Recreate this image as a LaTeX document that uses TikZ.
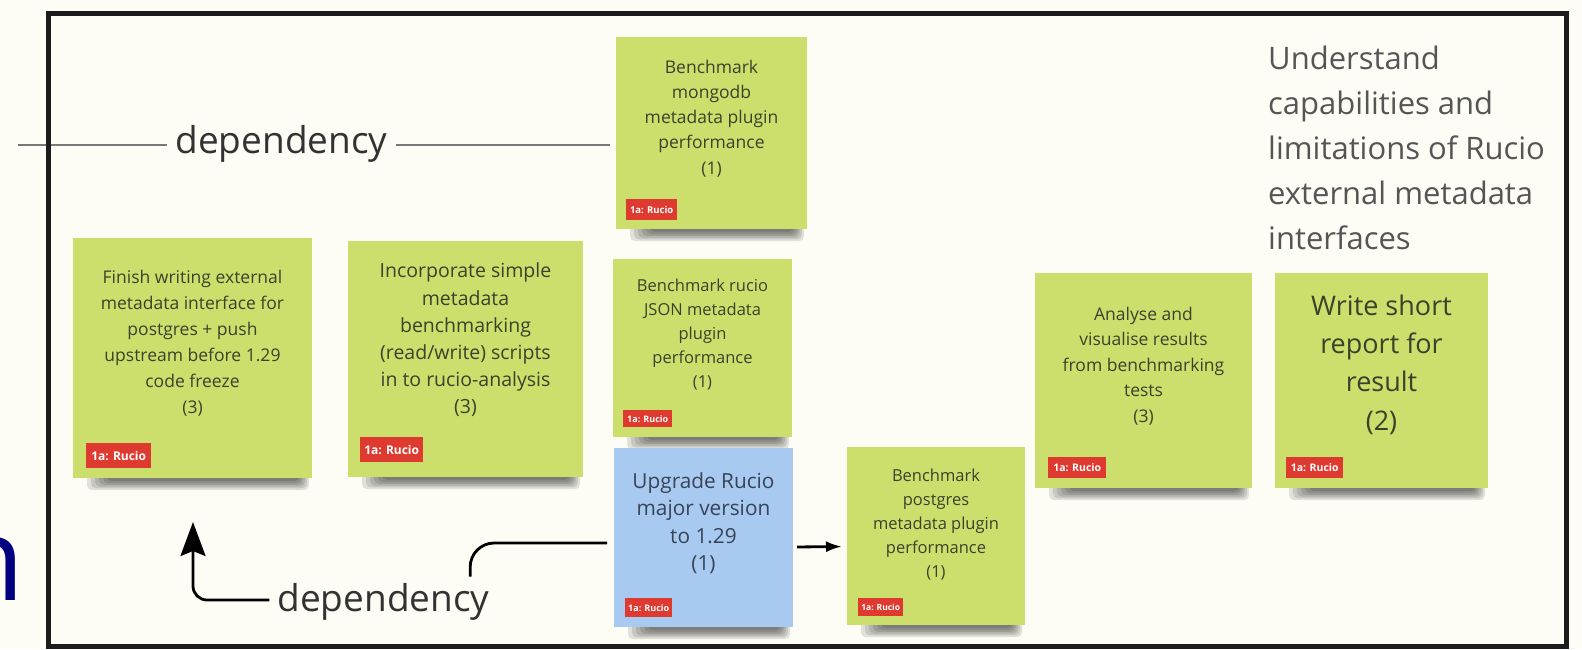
\documentclass[tikz,border=0pt]{standalone}
\usepackage{fontspec}
\setmainfont{Open Sans}
\usetikzlibrary{arrows.meta,calc}
\definecolor{bg}{RGB}{253,253,246}
\definecolor{notegreen}{RGB}{204,223,108}
\definecolor{noteblue}{RGB}{168,202,240}
\definecolor{notetext}{RGB}{58,66,44}
\definecolor{bluetext}{RGB}{55,68,88}
\definecolor{tagred}{RGB}{222,58,48}
\definecolor{navy}{RGB}{0,0,128}
\definecolor{framecol}{RGB}{28,28,28}
\definecolor{deptext}{RGB}{50,50,50}
\definecolor{goaltext}{RGB}{85,85,85}
\definecolor{depgray}{RGB}{120,120,120}
\pgfdeclarelayer{back}
\pgfdeclarelayer{shadowlayer}
\pgfsetlayers{back,shadowlayer,main}
\newcommand\noteshadow[1]{%
  \foreach \k in {1,...,6}{%
    \fill[black, opacity=0.11, rounded corners=5pt]
      ($(#1.south west)+(10+4*\k,-6)$) rectangle ($(#1.south east)+(-1-2*\k,14-1.8*\k)$);}}
\begin{document}
\begin{tikzpicture}[x=1pt,y=-1pt,
  sticky/.style={inner sep=0pt, outer sep=0pt, draw=none},
  notetxt/.style={align=center, inner sep=0pt, text=notetext},
  tagbox/.style={fill=tagred, text=white, inner sep=0pt, anchor=north west},
  depline/.style={draw=depgray, line width=1.8pt},
  conn/.style={draw=black, line width=2.8pt},
  deplabel/.style={text=deptext, font=\fontsize{37}{44}\selectfont, inner xsep=8pt, inner ysep=0pt, anchor=base}]
\useasboundingbox (0,0) rectangle (1582,649);
\begin{pgfonlayer}{back}
  \fill[bg] (0,0) rectangle (1582,649);
\end{pgfonlayer}

% partial slide title glyph
\node[anchor=base east, inner sep=0pt, text=navy, font=\fontsize{116}{120}\selectfont] (titleN) at (25,600) {n};

% sticky notes
\node[sticky, fill=notegreen, minimum width=191pt, minimum height=192pt] (mongo) at (711.5,133) {};
\node[sticky, fill=notegreen, minimum width=179pt, minimum height=178pt] (json) at (702.5,348) {};
\node[sticky, fill=noteblue, minimum width=179pt, minimum height=179pt] (blue) at (703.5,537.5) {};
\node[sticky, fill=notegreen, minimum width=178pt, minimum height=178pt] (pg) at (936,536) {};
\node[sticky, fill=notegreen, minimum width=239pt, minimum height=240pt] (finish) at (192.5,358) {};
\node[sticky, fill=notegreen, minimum width=235pt, minimum height=236pt] (incorp) at (465.5,359) {};
\node[sticky, fill=notegreen, minimum width=217pt, minimum height=215pt] (analyse) at (1143.5,380.5) {};
\node[sticky, fill=notegreen, minimum width=213pt, minimum height=215pt] (write) at (1381.5,380.5) {};

\begin{pgfonlayer}{shadowlayer}
  \noteshadow{mongo}\noteshadow{json}\noteshadow{blue}\noteshadow{pg}
  \noteshadow{finish}\noteshadow{incorp}\noteshadow{analyse}\noteshadow{write}
\end{pgfonlayer}

% note texts
\node[notetxt, font=\fontsize{17.5}{25.2}\selectfont] (mongo-text) at (711.5,118.5) {Benchmark\\mongodb\\metadata plugin\\performance\\(1)};
\node[notetxt, font=\fontsize{16.5}{23.8}\selectfont] (json-text) at (702.5,334.5) {Benchmark rucio\\JSON metadata\\plugin\\performance\\(1)};
\node[notetxt, text=bluetext, font=\fontsize{20.8}{27.5}\selectfont] (blue-text) at (703.5,523) {Upgrade Rucio\\major version\\to 1.29\\(1)};
\node[notetxt, font=\fontsize{16.5}{23.8}\selectfont] (pg-text) at (936,524.5) {Benchmark\\postgres\\metadata plugin\\performance\\(1)};
\node[notetxt, font=\fontsize{17.5}{26}\selectfont] (finish-text) at (192.5,343) {Finish writing external\\metadata interface for\\postgres + push\\upstream before 1.29\\code freeze\\(3)};
\node[notetxt, font=\fontsize{19.5}{27.2}\selectfont] (incorp-text) at (465.5,340) {Incorporate simple\\metadata\\benchmarking\\(read/write) scripts\\in to rucio-analysis\\(3)};
\node[notetxt, font=\fontsize{17.5}{25.5}\selectfont] (analyse-text) at (1143.5,366) {Analyse and\\visualise results\\from benchmarking\\tests\\(3)};
\node[notetxt, font=\fontsize{27}{38.3}\selectfont] (write-text) at (1381.5,364.5) {Write short\\report for\\result\\(2)};

% tags
\node[tagbox, minimum width=51pt, minimum height=21pt, font=\bfseries\fontsize{9.5}{10}\selectfont] (mongo-tag) at (626,199) {1a: Rucio};
\node[tagbox, minimum width=49pt, minimum height=17pt, font=\bfseries\fontsize{9}{10}\selectfont] (json-tag) at (623,410) {1a: Rucio};
\node[tagbox, minimum width=47pt, minimum height=19pt, font=\bfseries\fontsize{9}{10}\selectfont] (blue-tag) at (625,598) {1a: Rucio};
\node[tagbox, minimum width=45pt, minimum height=18pt, font=\bfseries\fontsize{8.5}{10}\selectfont] (pg-tag) at (858,598) {1a: Rucio};
\node[tagbox, minimum width=65pt, minimum height=25pt, font=\bfseries\fontsize{12}{13}\selectfont] (finish-tag) at (86,443) {1a: Rucio};
\node[tagbox, minimum width=63pt, minimum height=25pt, font=\bfseries\fontsize{12}{13}\selectfont] (incorp-tag) at (360,437) {1a: Rucio};
\node[tagbox, minimum width=58pt, minimum height=21pt, font=\bfseries\fontsize{10.5}{11}\selectfont] (analyse-tag) at (1048,457) {1a: Rucio};
\node[tagbox, minimum width=57pt, minimum height=21pt, font=\bfseries\fontsize{10.5}{11}\selectfont] (write-tag) at (1286,457) {1a: Rucio};

% goal text
\node[anchor=north west, align=left, inner sep=0pt, text=goaltext, font=\fontsize{31}{45}\selectfont] (goal) at (1268,45.5) {Understand\\capabilities and\\limitations of Rucio\\external metadata\\interfaces};

% top dependency
\coordinate (depL) at (18,145);
\node[deplabel] (dep1) at (281.5,153) {dependency};
\draw[depline] (depL) -- ([yshift=8pt]dep1.base west);
\draw[depline, shorten >=6pt] ([yshift=8pt]dep1.base east) -- (mongo.west |- depL);

% bottom dependency
\node[deplabel] (dep2) at (383.5,611) {dependency};
\coordinate (finTip) at (193,522);
\draw[conn, rounded corners=14pt, -{Stealth[length=34pt,width=25pt,inset=5pt]}] ([yshift=11pt]dep2.base west) -| (finTip);
\draw[conn, rounded corners=24pt] ([xshift=-27.5pt,yshift=6pt]dep2.north east) |- ([xshift=-7pt,yshift=-5.5pt]blue.west);
\draw[conn, -{Latex[length=16pt,width=11pt]}, shorten <=4pt, shorten >=5pt] ([yshift=-9.5pt]blue.east) -- ([yshift=-10.5pt]pg.west);

% frame
\draw[line width=5pt, framecol] (48,13) rectangle (1566,646);
\end{tikzpicture}
\end{document}
